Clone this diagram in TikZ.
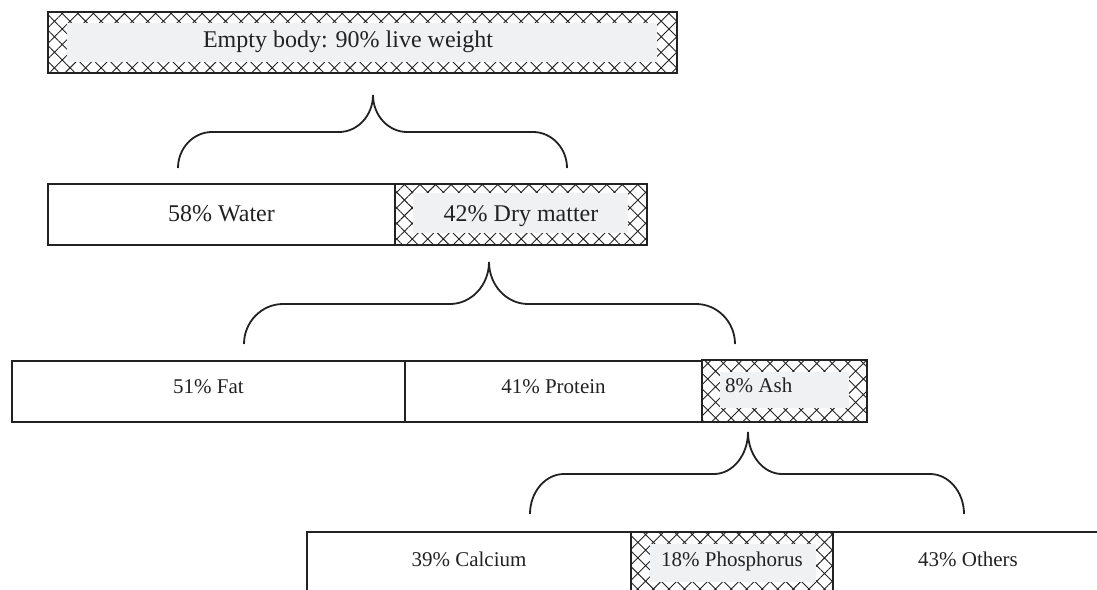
\documentclass[tikz,border=0pt]{standalone}
\usepackage{fontspec}
\setmainfont{Liberation Serif}
\usetikzlibrary{patterns.meta}
\definecolor{innergray}{HTML}{F0F1F3}
\definecolor{ink}{HTML}{222222}
% tipx, tipy, leftx, rightx, horizontal y, bottom y, radius
\newcommand{\bracepath}[7]{%
 \draw[bracket] (#3,#6) .. controls (#3,{#5+0.45*(#6-#5)}) and ({#3+0.45*#7},#5) .. ({#3+#7},#5)
   -- ({#1-#7},#5) .. controls ({#1-0.45*#7},#5) and (#1,{#5-0.45*(#5-#2)}) .. (#1,#2)
   .. controls (#1,{#5-0.45*(#5-#2)}) and ({#1+0.45*#7},#5) .. ({#1+#7},#5)
   -- ({#4-#7},#5) .. controls ({#4-0.45*#7},#5) and (#4,{#5+0.45*(#6-#5)}) .. (#4,#6);}
\begin{document}
\begin{tikzpicture}[x=1pt,y=-1pt,
  cell/.style={draw=ink, line width=2pt, anchor=north west, inner sep=0pt, outer sep=0pt},
  hatched/.style={cell, pattern={Hatch[angle=45,distance=11pt,line width=0.9pt]}, pattern color=ink},
  core/.style={fill=innergray, anchor=north west, inner sep=0pt, outer sep=0pt},
  lbl/.style={anchor=base, font=\fontsize{24}{28}\selectfont, text=ink, inner sep=0pt},
  lbls/.style={lbl, font=\fontsize{21}{25}\selectfont},
  bracket/.style={draw=ink, line width=1.8pt}
]
\useasboundingbox (0,0) rectangle (1097,589);
\clip (0,0) rectangle (1097,589);

% Row 1
\node[hatched, minimum width=629pt, minimum height=61pt] (body) at (48,12) {};
\node[core, minimum width=590pt, minimum height=39pt] (bodyin) at (67,23) {};
\node[lbl] (bodytxt) at (348,47) {Empty body: 90\% live weight};

% Row 2
\node[cell, minimum width=347pt, minimum height=61pt] (water) at (48,184) {};
\node[hatched, minimum width=252pt, minimum height=61pt] (dry) at (395,184) {};
\node[core, minimum width=215pt, minimum height=40pt] (dryin) at (413,193) {};
\node[lbl] (watertxt) at (221.5,221) {58\% Water};
\node[lbl] (drytxt) at (521,221) {42\% Dry matter};

% Row 3
\node[cell, minimum width=393pt, minimum height=61pt] (fat) at (12,361) {};
\node[cell, minimum width=297pt, minimum height=61pt] (protein) at (405,361) {};
\node[hatched, minimum width=165pt, minimum height=62pt] (ash) at (702,360) {};
\node[core, minimum width=129pt, minimum height=36pt] (ashin) at (720,372) {};
\node[lbls] (fattxt) at (208.5,393) {51\% Fat};
\node[lbls] (proteintxt) at (553.5,393) {41\% Protein};
\node[lbls, anchor=base west] (ashtxt) at (725,392) {8\% Ash};

% Row 4
\node[cell, minimum width=324pt, minimum height=80pt] (calcium) at (307,532) {};
\node[cell, minimum width=300pt, minimum height=80pt] (others) at (833,532) {};
\node[hatched, minimum width=202pt, minimum height=80pt] (phos) at (631,532) {};
\node[core, minimum width=166pt, minimum height=38pt] (phosin) at (650,544) {};
\node[lbls] (calciumtxt) at (469,566) {39\% Calcium};
\node[lbls] (phostxt) at (732,566) {18\% Phosphorus};
\node[lbls] (otherstxt) at (968,566) {43\% Others};

% Braces
\bracepath{373}{95}{178}{567}{132}{168}{34}
\bracepath{489}{262}{244}{735}{304}{344}{39}
\bracepath{748}{432}{530}{964}{474}{514}{34}
\end{tikzpicture}
\end{document}
